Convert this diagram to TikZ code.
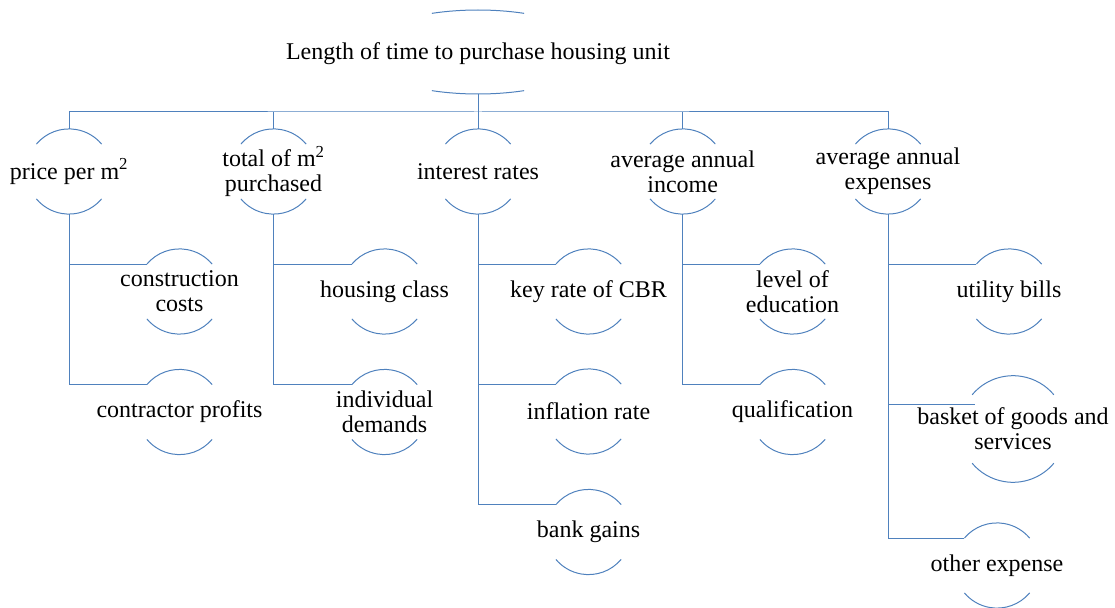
\documentclass[tikz,border=0pt]{standalone}
\usepackage{fontspec}
\setmainfont{Liberation Serif}
\usetikzlibrary{calc}
\definecolor{lnblue}{RGB}{79,129,189}
\tikzset{
  txt/.style={align=center, inner sep=0pt, font=\fontsize{24}{25}\selectfont, text=black},
  ln/.style={draw=lnblue, line width=1pt},
}
\newcommand\arcnode[5]{% name, x, y, radius, text
  \node[txt] (#1) at (#2,#3) {#5};
  \draw[ln] (#1.center) ++(220:#4) arc[start angle=220, end angle=320, radius=#4];
  \draw[ln] (#1.center) ++(40:#4) arc[start angle=40, end angle=140, radius=#4];
  \coordinate (#1-t) at ($(#1.center)+(0,-#4)$);
  \coordinate (#1-b) at ($(#1.center)+(0,#4)$);
  \coordinate (#1-l) at ($(#1.center)+(220:#4)$);
}
\begin{document}
\begin{tikzpicture}[x=1pt, y=-1pt]
\useasboundingbox (0,0) rectangle (1115,607);
% root
\coordinate (rootc) at (478,52);
\node[txt] (root) at (478,54) {Length of time to purchase housing unit};
\draw[ln] (rootc) ++(247:118 and 42) arc[start angle=247, end angle=293, x radius=118, y radius=42];
\draw[ln] (rootc) ++(67:118 and 42) arc[start angle=67, end angle=113, x radius=118, y radius=42];
\coordinate (root-b) at ($(rootc)+(0,42)$);
% level 1
\arcnode{p}{69}{171.5}{42.6}{price per m\textsuperscript{2}}
\arcnode{t}{273.5}{171.5}{42.6}{total of m\textsuperscript{2}\\purchased}
\arcnode{i}{478}{171.5}{42.6}{interest rates}
\arcnode{a}{682.7}{171.5}{42.6}{average annual\\income}
\arcnode{e}{888}{171.5}{42.6}{average annual\\expenses}
% level 2
\arcnode{p1}{179.5}{291.5}{42.6}{construction\\costs}
\arcnode{p2}{179.5}{412}{42.6}{contractor profits}
\arcnode{t1}{384.5}{291.5}{42.6}{housing class}
\arcnode{t2}{384.5}{412}{42.6}{individual\\demands}
\arcnode{i1}{588.5}{291.5}{42.6}{key rate of CBR}
\arcnode{i2}{588.5}{411.5}{42.6}{inflation rate}
\arcnode{i3}{588.5}{532}{42.6}{bank gains}
\arcnode{a1}{792.5}{291.5}{42.6}{level of\\education}
\arcnode{a2}{792.5}{412}{42.6}{qualification}
\arcnode{e1}{1009}{291.5}{42.6}{utility bills}
\arcnode{e2}{1013}{429}{53.3}{basket of goods and\\services}
\arcnode{e3}{997}{565.5}{42.6}{other expense}
\coordinate (e2-in) at ($(e2.center)+(-38,-25)$);
% bus
\coordinate (bus) at (478,112);
\draw[ln] (root-b) -- (bus);
\draw[ln] (p-t) |- (bus) -| (e-t);
\foreach \n in {t,i,a} \draw[ln] (\n-t) -- (\n-t |- bus);
% branches
\draw[ln] (p-b) |- (p2-l);
\draw[ln] (p-b |- p1-l) -- (p1-l);
\draw[ln] (t-b) |- (t2-l);
\draw[ln] (t-b |- t1-l) -- (t1-l);
\draw[ln] (i-b) |- (i3-l);
\draw[ln] (i-b |- i1-l) -- (i1-l);
\draw[ln] (i-b |- i2-l) -- (i2-l);
\draw[ln] (a-b) |- (a2-l);
\draw[ln] (a-b |- a1-l) -- (a1-l);
\draw[ln] (e-b) |- (e3-l);
\draw[ln] (e-b |- e1-l) -- (e1-l);
\draw[ln] (e-b |- e2-in) -- (e2-in);
\end{tikzpicture}
\end{document}
